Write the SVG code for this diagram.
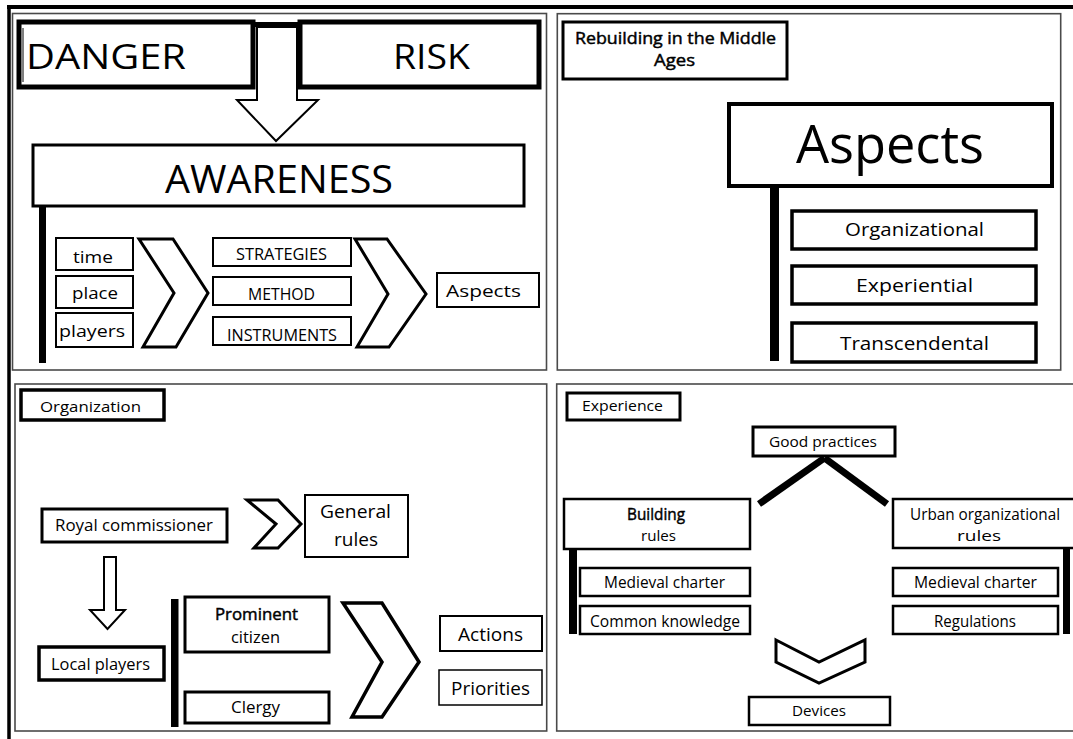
<svg xmlns="http://www.w3.org/2000/svg" width="1073" height="739" viewBox="0 0 1073 739">
<style>
.panel{fill:#fff;stroke:#4a4a4a;stroke-width:1.6}
.bx{fill:#fff;stroke:#000}
.bar{fill:#000}
.chev{fill:#fff;stroke:#000;stroke-linejoin:miter}
text{font-family:"Open Sans","Liberation Sans",sans-serif;fill:#000}
.b{stroke:#000;stroke-width:0.45}
</style>
<rect x="0" y="0" width="1073" height="739" fill="#fff"/>
<!-- outer frame -->
<g id="frame">
<line x1="7" y1="7" x2="1073" y2="7" stroke="#000" stroke-width="4"/>
<line x1="9" y1="5" x2="9" y2="739" stroke="#000" stroke-width="3.5"/>
</g>
<!-- panels -->
<g id="panels">
<rect class="panel" x="12.5" y="13.5" width="534" height="356.5"/>
<rect class="panel" x="557.3" y="13.7" width="503.4" height="356.3"/>
<rect class="panel" x="15" y="384" width="531.7" height="347"/>
<rect class="panel" x="556.7" y="384" width="530" height="347"/>
</g>

<!-- ===== Panel 1 ===== -->
<g id="danger">
<rect class="bx" x="19" y="22" width="234" height="65" stroke-width="5"/>
<line x1="23" y1="28" x2="23" y2="82" stroke="#000" stroke-width="1"/>
<text x="26" y="69" font-size="34" textLength="160" lengthAdjust="spacingAndGlyphs">DANGER</text>
</g>
<g id="risk">
<rect class="bx" x="300" y="22" width="239" height="65" stroke-width="5"/>
<text x="393" y="69" font-size="34" textLength="77" lengthAdjust="spacingAndGlyphs">RISK</text>
</g>
<g id="awareness">
<rect class="bx" x="33" y="145" width="491" height="61" stroke-width="3"/>
<text x="165" y="193" font-size="38" textLength="228" lengthAdjust="spacingAndGlyphs">AWARENESS</text>
</g>
<g id="time">
<rect class="bx" x="56" y="238" width="77" height="32" stroke-width="2"/>
<text x="73" y="263" font-size="16" textLength="40" lengthAdjust="spacingAndGlyphs">time</text>
</g>
<g id="place">
<rect class="bx" x="56" y="276" width="77" height="32" stroke-width="2"/>
<text x="72" y="299" font-size="16" textLength="46" lengthAdjust="spacingAndGlyphs">place</text>
</g>
<g id="players">
<rect class="bx" x="56" y="313" width="77" height="34" stroke-width="2"/>
<text x="59" y="337" font-size="16" textLength="66" lengthAdjust="spacingAndGlyphs">players</text>
</g>
<g id="strategies">
<rect class="bx" x="213" y="238" width="138" height="28" stroke-width="2"/>
<text x="236" y="260" font-size="17" textLength="91" lengthAdjust="spacingAndGlyphs">STRATEGIES</text>
</g>
<g id="method">
<rect class="bx" x="213" y="277" width="138" height="28" stroke-width="2"/>
<text x="248" y="300" font-size="17" textLength="67" lengthAdjust="spacingAndGlyphs">METHOD</text>
</g>
<g id="instruments">
<rect class="bx" x="213" y="317" width="138" height="28" stroke-width="2"/>
<text x="227" y="341" font-size="17" textLength="110" lengthAdjust="spacingAndGlyphs">INSTRUMENTS</text>
</g>
<g id="aspects-small">
<rect class="bx" x="437" y="273" width="102" height="34" stroke-width="2"/>
<text x="446" y="297" font-size="17" textLength="75" lengthAdjust="spacingAndGlyphs">Aspects</text>
</g>

<!-- ===== Panel 2 ===== -->
<g id="rebuilding">
<rect class="bx" x="563" y="22" width="224" height="57" stroke-width="3"/>
<text x="575" y="44" font-size="16" class="b" textLength="201" lengthAdjust="spacingAndGlyphs">Rebuilding in the Middle</text>
<text x="654" y="66" font-size="16" class="b" textLength="41" lengthAdjust="spacingAndGlyphs">Ages</text>
</g>
<g id="aspects-big">
<rect class="bx" x="729" y="104" width="323" height="82" stroke-width="4"/>
<text x="796" y="163" font-size="53" textLength="188" lengthAdjust="spacingAndGlyphs">Aspects</text>
</g>
<g id="organizational">
<rect class="bx" x="792" y="211" width="244" height="38" stroke-width="3.5"/>
<text x="845" y="236" font-size="19" textLength="139" lengthAdjust="spacingAndGlyphs">Organizational</text>
</g>
<g id="experiential">
<rect class="bx" x="792" y="266" width="244" height="38" stroke-width="3.5"/>
<text x="856" y="292" font-size="19" textLength="117" lengthAdjust="spacingAndGlyphs">Experiential</text>
</g>
<g id="transcendental">
<rect class="bx" x="792" y="323" width="244" height="39" stroke-width="3.5"/>
<text x="840" y="350" font-size="19" textLength="149" lengthAdjust="spacingAndGlyphs">Transcendental</text>
</g>

<!-- ===== Panel 3 ===== -->
<g id="organization">
<rect class="bx" x="21" y="390" width="143" height="30" stroke-width="3.5"/>
<text x="40" y="412" font-size="15" textLength="101" lengthAdjust="spacingAndGlyphs">Organization</text>
</g>
<g id="royal">
<rect class="bx" x="42" y="509" width="185" height="33" stroke-width="3"/>
<text x="55" y="531" font-size="16" textLength="158" lengthAdjust="spacingAndGlyphs">Royal commissioner</text>
</g>
<g id="general">
<rect class="bx" x="305" y="495" width="103" height="62" stroke-width="2"/>
<text x="320" y="518" font-size="19" textLength="71" lengthAdjust="spacingAndGlyphs">General</text>
<text x="334" y="546" font-size="19" textLength="44" lengthAdjust="spacingAndGlyphs">rules</text>
</g>
<g id="local">
<rect class="bx" x="39" y="647" width="125" height="33" stroke-width="3.5"/>
<text x="51" y="670" font-size="16" textLength="99" lengthAdjust="spacingAndGlyphs">Local players</text>
</g>
<g id="prominent">
<rect class="bx" x="185" y="597" width="144" height="55" stroke-width="3"/>
<text x="215" y="620" font-size="16" class="b" textLength="83" lengthAdjust="spacingAndGlyphs">Prominent</text>
<text x="231" y="643" font-size="16" textLength="49" lengthAdjust="spacingAndGlyphs">citizen</text>
</g>
<g id="clergy">
<rect class="bx" x="185" y="692" width="144" height="31" stroke-width="3"/>
<text x="231" y="713" font-size="16" textLength="49" lengthAdjust="spacingAndGlyphs">Clergy</text>
</g>
<g id="actions">
<rect class="bx" x="440" y="616" width="102" height="35" stroke-width="2"/>
<text x="458" y="641" font-size="19" textLength="65" lengthAdjust="spacingAndGlyphs">Actions</text>
</g>
<g id="priorities">
<rect class="bx" x="439" y="670" width="103" height="35" stroke-width="1.5"/>
<text x="451" y="695" font-size="19" textLength="79" lengthAdjust="spacingAndGlyphs">Priorities</text>
</g>

<!-- ===== Panel 4 ===== -->
<g id="experience">
<rect class="bx" x="567" y="393" width="113" height="27" stroke-width="3"/>
<text x="582" y="411" font-size="14" textLength="81" lengthAdjust="spacingAndGlyphs">Experience</text>
</g>
<g id="good">
<rect class="bx" x="753" y="427" width="142" height="29" stroke-width="3"/>
<text x="769" y="447" font-size="15" textLength="108" lengthAdjust="spacingAndGlyphs">Good practices</text>
</g>
<g id="building">
<rect class="bx" x="564" y="499" width="186" height="50" stroke-width="2.5"/>
<text x="627" y="520" font-size="16" class="b" textLength="58" lengthAdjust="spacingAndGlyphs">Building</text>
<text x="641" y="541" font-size="15" textLength="35" lengthAdjust="spacingAndGlyphs">rules</text>
</g>
<g id="urban">
<rect class="bx" x="893" y="499" width="190" height="49" stroke-width="2.5"/>
<text x="910" y="520" font-size="16" textLength="150" lengthAdjust="spacingAndGlyphs">Urban organizational</text>
<text x="957" y="541" font-size="15" textLength="44" lengthAdjust="spacingAndGlyphs">rules</text>
</g>
<g id="charter-left">
<rect class="bx" x="580" y="568" width="170" height="28" stroke-width="2.5"/>
<text x="604" y="588" font-size="16" textLength="121" lengthAdjust="spacingAndGlyphs">Medieval charter</text>
</g>
<g id="common">
<rect class="bx" x="580" y="606" width="170" height="28" stroke-width="2.5"/>
<text x="590" y="627" font-size="16" textLength="150" lengthAdjust="spacingAndGlyphs">Common knowledge</text>
</g>
<g id="charter-right">
<rect class="bx" x="893" y="568" width="165" height="28" stroke-width="2.5"/>
<text x="914" y="588" font-size="16" textLength="123" lengthAdjust="spacingAndGlyphs">Medieval charter</text>
</g>
<g id="regulations">
<rect class="bx" x="893" y="606" width="165" height="28" stroke-width="2.5"/>
<text x="934" y="627" font-size="16" textLength="82" lengthAdjust="spacingAndGlyphs">Regulations</text>
</g>
<g id="devices">
<rect class="bx" x="749" y="697" width="141" height="28" stroke-width="2.5"/>
<text x="792" y="716" font-size="15" textLength="54" lengthAdjust="spacingAndGlyphs">Devices</text>
</g>

<!-- ===== connectors ===== -->
<g id="connectors">
<!-- panel 1 -->
<line x1="253" y1="24.5" x2="300" y2="24.5" stroke="#000" stroke-width="5"/>
<polygon class="chev" stroke-width="2" points="257,27 257,100 237,100 276,141 318,100 297,100 297,27"/>
<rect class="bar" x="39" y="206" width="7" height="157"/>
<polygon class="chev" stroke-width="3" points="139,239 173,239 208,293 176,347 143,347 174,293"/>
<polygon class="chev" stroke-width="3" points="355,239 387,239 426,294 389,347 357,347 388,294"/>
<!-- panel 2 -->
<rect class="bar" x="770" y="186" width="9" height="175"/>
<!-- panel 3 -->
<polygon class="chev" stroke-width="3" points="247,500 278,500 301,524 278,548 254,548 276,524"/>
<polygon class="chev" stroke-width="2" points="104,557 104,610 90,610 107.5,629 125,610 116,610 116,557"/>
<rect class="bar" x="171" y="599" width="7.5" height="128"/>
<polygon class="chev" stroke-width="3.5" points="343,603 382,603 419,662 382,717 352,717 382,662"/>
<!-- panel 4 -->
<line x1="824.5" y1="458" x2="759" y2="504" stroke="#000" stroke-width="7"/>
<line x1="824.5" y1="458" x2="887" y2="504" stroke="#000" stroke-width="7"/>
<rect class="bar" x="569" y="548" width="8" height="86"/>
<rect class="bar" x="1063" y="547" width="7" height="87"/>
<polygon class="chev" stroke-width="3" points="776,640 819,662 865,640 865,662 819,683 776,662"/>
</g>
</svg>
